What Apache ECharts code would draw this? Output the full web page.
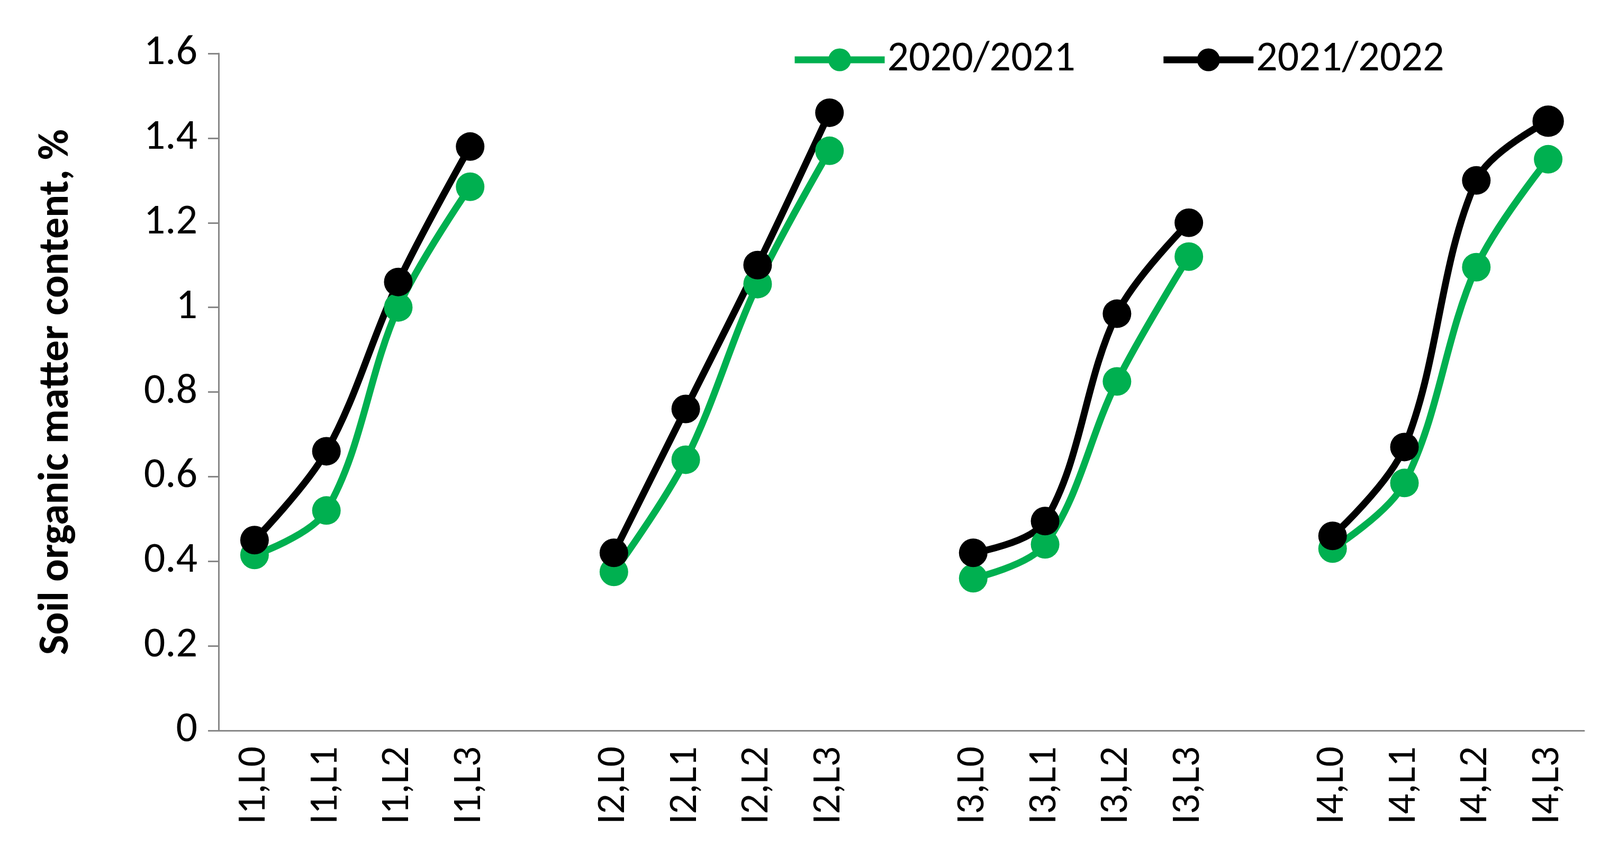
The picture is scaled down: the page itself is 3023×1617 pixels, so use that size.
<!DOCTYPE html>
<html>
<head>
<meta charset="utf-8">
<script src="https://cdn.jsdelivr.net/npm/echarts@6/dist/echarts.min.js"></script>
<style>html,body{margin:0;padding:0;background:#fff}#chart{width:3023px;height:1617px}</style>
</head>
<body>
<div id="chart"></div>
<script>
// categories with empty gaps between the I groups
var categories = ['I1,L0', 'I1,L1', 'I1,L2', 'I1,L3', '',
    'I2,L0', 'I2,L1', 'I2,L2', 'I2,L3', ' ',
    'I3,L0', 'I3,L1', 'I3,L2', 'I3,L3', '  ',
    'I4,L0', 'I4,L1', 'I4,L2', 'I4,L3'];
var season1 = [0.415, 0.52, 1.0, 1.285, null, 0.375, 0.64, 1.055, 1.37, null,
    0.36, 0.44, 0.825, 1.12, null, 0.43, 0.585, 1.095, 1.35];
var season2 = [0.45, 0.66, 1.06, 1.38, null, 0.42, 0.76, 1.10, 1.46, null,
    0.42, 0.495, 0.985, 1.20, null, 0.46, 0.67, 1.30, 1.44];

var chart = echarts.init(document.getElementById('chart'));

function makeSeries(name, data, color) {
    return {
        name: name,
        type: 'line',
        data: data,
        smooth: 0.35,
        connectNulls: false,
        symbol: 'circle',
        symbolSize: 54,
        lineStyle: { color: color, width: 13 },
        itemStyle: { color: color }
    };
}

chart.setOption({
    backgroundColor: '#fff',
    textStyle: { fontFamily: 'Calibri, Carlito, Lato, sans-serif' },
    grid: { left: 413, right: 30, top: 101, bottom: 237 },
    legend: {
        top: 68, left: 1490,
        itemWidth: 170, itemHeight: 54, itemGap: 160,
        lineStyle: { width: 13 },
        textStyle: { fontSize: 80, color: '#000' },
        data: ['2020/2021', '2021/2022']
    },
    xAxis: {
        type: 'category',
        data: categories,
        axisLine: { lineStyle: { color: '#888', width: 3 } },
        axisTick: { interval: 0, length: 22, lineStyle: { color: '#888', width: 3 } },
        axisLabel: { interval: 0, rotate: 90, fontSize: 76, color: '#000', margin: 30 }
    },
    yAxis: {
        type: 'value',
        min: 0, max: 1.6, interval: 0.2,
        name: 'Soil organic matter content, %',
        nameLocation: 'middle',
        nameGap: 265,
        nameTextStyle: { fontSize: 80, fontWeight: 'bold', color: '#000' },
        splitLine: { show: false },
        axisLine: { show: true, lineStyle: { color: '#888', width: 3 } },
        axisTick: { show: true, length: 20, lineStyle: { color: '#888', width: 3 } },
        axisLabel: { fontSize: 80, color: '#000', margin: 40 }
    },
    series: [
        makeSeries('2020/2021', season1, '#00b050'),
        makeSeries('2021/2022', season2, '#000000')
    ]
});
</script>
</body>
</html>
